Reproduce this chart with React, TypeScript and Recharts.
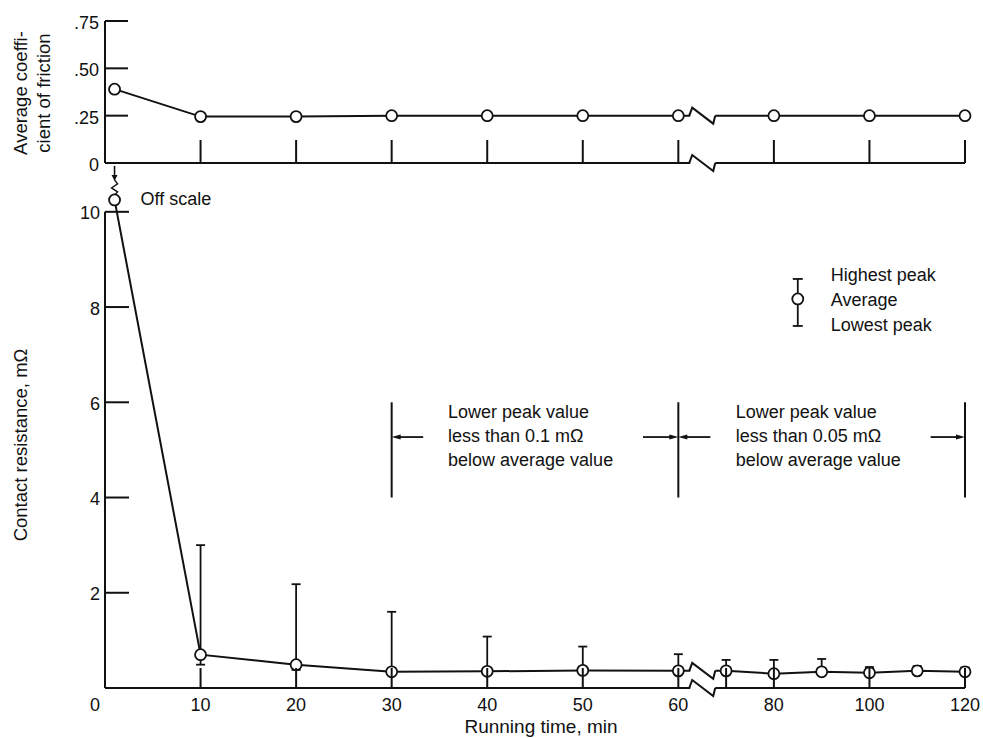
import React from 'react';
import {
  LineChart,
  Line,
  XAxis,
  YAxis,
  ErrorBar,
  ReferenceLine,
  ReferenceDot,
  Label,
} from 'recharts';

const NUM_FONT = '"Liberation Sans Narrow", "Liberation Sans", sans-serif';
const TEXT_FONT = '"Liberation Sans", Arial, sans-serif';
const INK = '#111';

// Running time, min. The axis breaks after 60 min; 60-120 min is drawn at half scale.
const frictionTimes = [1, 10, 20, 30, 40, 50, 60, 80, 100, 120];
const frictionAvg = [0.39, 0.245, 0.245, 0.25, 0.25, 0.25, 0.25, 0.25, 0.25, 0.25];

const resistanceTimes = [1, 10, 20, 30, 40, 50, 60, 70, 80, 90, 100, 110, 120];
const resistanceAvg = [10.25, 0.7, 0.49, 0.34, 0.35, 0.37, 0.36, 0.36, 0.3, 0.34, 0.32, 0.36, 0.34];
const resistanceHigh = [null, 3.0, 2.18, 1.6, 1.08, 0.87, 0.71, 0.59, 0.59, 0.61, 0.44, 0.46, 0.43];
const resistanceLow = [null, 0.49, 0.38, null, null, null, null, null, null, null, null, null, null];

const frictionTickTimes = [10, 20, 30, 40, 50, 60, 80, 100, 120];
const frictionTicks = [0, 0.25, 0.5, 0.75];
const frictionTickLabels = ['0', '.25', '.50', '.75'];
const timeTickTimes = [0, 10, 20, 30, 40, 50, 60, 70, 80, 100, 120];
const timeTickLabels = ['0', '10', '20', '30', '40', '50', '60', '', '80', '100', '120'];
const resistanceTicks = [2, 4, 6, 8, 10];

const legendLabels = ['Highest peak', 'Average', 'Lowest peak'];
const note1Lines = ['Lower peak value', 'less than 0.1 mΩ', 'below average value'];
const note2Lines = ['Lower peak value', 'less than 0.05 mΩ', 'below average value'];
const noteBounds = [30, 60, 120];

const BREAK_AT = 60;
const BREAK_MARK = 65;

// time -> position on the broken axis
const toAxis = (t: number) => (t <= BREAK_AT ? t : BREAK_AT + (t - BREAK_AT) / 2);
const AXIS_MAX = toAxis(120);

// value of a polyline at time t (used to place the break symbol on the curve)
function valueAt(times: number[], vals: number[], t: number) {
  for (let i = 1; i < times.length; i++) {
    if (t <= times[i]) {
      const f = (t - times[i - 1]) / (times[i] - times[i - 1]);
      return vals[i - 1] + f * (vals[i] - vals[i - 1]);
    }
  }
  return vals[vals.length - 1];
}

const frictionData = frictionTimes.map((t, i) => ({ x: toAxis(t), avg: frictionAvg[i] }));

const resistanceData = resistanceTimes.map((t, i) => {
  const avg = resistanceAvg[i];
  const hi = resistanceHigh[i];
  const lo = resistanceLow[i];
  return {
    x: toAxis(t),
    avg,
    err: hi == null ? null : [lo == null ? 0 : avg - lo, hi - avg],
  };
});

// note annotation anchors (data units)
const NOTE_Y = 5.27;
const NOTE_TOP = 6.0;
const NOTE_BOTTOM = 4.0;
const note1At = 35.9;
const note2At = 72;
const noteArrows = [
  { from: 33.3, to: 30 },
  { from: 56.3, to: 60 },
  { from: 66.7, to: 60 },
  { from: 112.8, to: 120 },
];
const legendAt = { t: 85, y: 8.17 };

// ---- renderers ----

const circle = (cx: number, cy: number, key: string) => (
  <circle key={key} cx={cx} cy={cy} r={5.5} fill="#fff" stroke={INK} strokeWidth={1.8} />
);

const renderFrictionDot = (p: any) => circle(p.cx, p.cy, `fd-${p.index}`);

const renderResistanceDot = (p: any) => {
  const { cx, cy, index } = p;
  if (index !== 0) return circle(cx, cy, `rd-${index}`);
  // off-scale point: arrow with squiggle above it
  return (
    <g key="rd-0">
      <line x1={cx} y1={cy - 34} x2={cx} y2={cy - 24} stroke={INK} strokeWidth={1.6} />
      <polygon points={`${cx - 3},${cy - 25} ${cx + 3},${cy - 25} ${cx},${cy - 19}`} fill={INK} />
      <polyline
        points={`${cx},${cy - 20} ${cx + 3},${cy - 16} ${cx - 3},${cy - 12} ${cx + 3},${cy - 8} ${cx},${cy - 5}`}
        fill="none"
        stroke={INK}
        strokeWidth={1.4}
      />
      {circle(cx, cy, 'rd-0c')}
      <text x={cx + 26} y={cy + 5} fontFamily={TEXT_FONT} fontSize={18} fill={INK}>
        Off scale
      </text>
    </g>
  );
};

const renderFrictionXTick = (p: any) => (
  <line x1={p.x} y1={p.y} x2={p.x} y2={p.y - 23} stroke={INK} strokeWidth={2} />
);

const renderFrictionYTick = (p: any) => {
  const i = frictionTicks.indexOf(p.payload.value);
  return (
    <g>
      {p.payload.value !== 0 && (
        <line x1={p.x} y1={p.y} x2={p.x + 23} y2={p.y} stroke={INK} strokeWidth={2} />
      )}
      <text x={p.x - 6} y={p.y + 8} textAnchor="end" fontFamily={NUM_FONT} fontSize={18} fill={INK}>
        {frictionTickLabels[i]}
      </text>
    </g>
  );
};

const renderTimeTick = (p: any) => {
  const i = timeTickTimes.map(toAxis).indexOf(p.payload.value);
  const label = timeTickLabels[i];
  const isZero = timeTickTimes[i] === 0;
  return (
    <g>
      {!isZero && <line x1={p.x} y1={p.y} x2={p.x} y2={p.y - 20} stroke={INK} strokeWidth={2} />}
      <text
        x={isZero ? p.x - 5 : p.x}
        y={p.y + 23}
        textAnchor={isZero ? 'end' : 'middle'}
        fontFamily={NUM_FONT}
        fontSize={18}
        fill={INK}
      >
        {label}
      </text>
    </g>
  );
};

const renderResistanceYTick = (p: any) => (
  <g>
    <line x1={p.x} y1={p.y} x2={p.x + 24} y2={p.y} stroke={INK} strokeWidth={2} />
    <text x={p.x - 5} y={p.y + 7.5} textAnchor="end" fontFamily={NUM_FONT} fontSize={18} fill={INK}>
      {p.payload.value}
    </text>
  </g>
);

const rotatedText = (x: number, y: number, s: string, key?: string) => (
  <text
    key={key}
    x={x}
    y={y}
    transform={`rotate(-90 ${x} ${y})`}
    textAnchor="middle"
    fontFamily={TEXT_FONT}
    fontSize={18.5}
    fill={INK}
  >
    {s}
  </text>
);

const renderFrictionTitle = (p: any) => {
  const vb = p.viewBox;
  const cy = vb.y + vb.height / 2 + 1;
  const right = vb.x + vb.width;
  return (
    <g>
      {rotatedText(right - 78, cy, 'Average coeffi-', 'a')}
      {rotatedText(right - 55, cy, 'cient of friction', 'b')}
    </g>
  );
};

const renderResistanceTitle = (p: any) => {
  const vb = p.viewBox;
  return rotatedText(vb.x + vb.width - 78, vb.y + vb.height / 2 + 7, 'Contact resistance,  mΩ');
};

const renderTimeTitle = (p: any) => {
  const vb = p.viewBox;
  return (
    <text
      x={vb.x + vb.width / 2 + 6}
      y={vb.y + 45}
      textAnchor="middle"
      fontFamily={TEXT_FONT}
      fontSize={19}
      fill={INK}
    >
      Running time,  min
    </text>
  );
};

// break symbol: blank out the stroke and draw a zig-zag
const renderBreak = (p: any) => {
  const { cx, cy } = p;
  return (
    <g>
      <rect x={cx - 12} y={cy - 3} width={25} height={6} fill="#fff" />
      <polyline
        points={`${cx - 13},${cy} ${cx - 10},${cy - 8} ${cx + 11},${cy + 8} ${cx + 13},${cy}`}
        fill="none"
        stroke={INK}
        strokeWidth={2}
      />
    </g>
  );
};

const renderArrow = (p: any) => {
  const { x1, y1, x2, y2 } = p;
  const dir = x2 > x1 ? 1 : -1;
  return (
    <g>
      <line x1={x1} y1={y1} x2={x2 - dir * 6} y2={y2} stroke={INK} strokeWidth={1.8} />
      <polygon
        points={`${x2},${y2} ${x2 - dir * 9},${y2 - 2.5} ${x2 - dir * 9},${y2 + 2.5}`}
        fill={INK}
      />
    </g>
  );
};

const renderNote = (lines: string[]) => (p: any) => (
  <g>
    {lines.map((s, i) => (
      <text
        key={s + i}
        x={p.cx}
        y={p.cy - 19 + i * 24}
        fontFamily={TEXT_FONT}
        fontSize={18}
        fill={INK}
      >
        {s}
      </text>
    ))}
  </g>
);

const renderLegend = (p: any) => {
  const { cx, cy } = p;
  return (
    <g>
      <line x1={cx} y1={cy - 20} x2={cx} y2={cy + 27} stroke={INK} strokeWidth={1.8} />
      <line x1={cx - 5} y1={cy - 20} x2={cx + 5} y2={cy - 20} stroke={INK} strokeWidth={1.8} />
      <line x1={cx - 5} y1={cy + 27} x2={cx + 5} y2={cy + 27} stroke={INK} strokeWidth={1.8} />
      {circle(cx, cy, 'lg')}
      {legendLabels.map((s, i) => (
        <text key={s} x={cx + 33} y={cy - 18 + i * 25} fontFamily={TEXT_FONT} fontSize={18} fill={INK}>
          {s}
        </text>
      ))}
    </g>
  );
};

const axisStroke = { stroke: INK, strokeWidth: 2 };

export default function App() {
  const breakX = toAxis(BREAK_MARK);
  return (
    <div style={{ position: 'absolute', left: 0, top: 0, width: 983, height: 738, background: '#fff' }}>
      <div style={{ position: 'absolute', left: 0, top: 0 }}>
        <LineChart
          width={983}
          height={180}
          data={frictionData}
          margin={{ top: 21, right: 18, bottom: 16, left: 104 }}
        >
          <XAxis
            dataKey="x"
            type="number"
            domain={[0, AXIS_MAX]}
            ticks={frictionTickTimes.map(toAxis)}
            interval={0}
            height={1}
            tickSize={0}
            tickMargin={0}
            tickLine={false}
            axisLine={axisStroke}
            tick={renderFrictionXTick}
            zIndex={0}
          />
          <YAxis
            type="number"
            domain={[0, 0.75]}
            ticks={frictionTicks}
            interval={0}
            width={1}
            tickSize={0}
            tickMargin={0}
            tickLine={false}
            axisLine={axisStroke}
            tick={renderFrictionYTick}
            zIndex={0}
          >
            <Label content={renderFrictionTitle} />
          </YAxis>
          <Line
            dataKey="avg"
            stroke={INK}
            strokeWidth={2}
            dot={renderFrictionDot}
            activeDot={false}
            isAnimationActive={false}
          />
          <ReferenceDot
            x={breakX}
            y={valueAt(frictionTimes, frictionAvg, BREAK_MARK)}
            shape={renderBreak}
            ifOverflow="visible"
            zIndex={1500}
          />
          <ReferenceDot x={breakX} y={0} shape={renderBreak} ifOverflow="visible" zIndex={1500} />
        </LineChart>
      </div>

      <div style={{ position: 'absolute', left: 0, top: 160 }}>
        <LineChart
          width={983}
          height={578}
          data={resistanceData}
          margin={{ top: 28, right: 18, bottom: 49, left: 104 }}
        >
          <XAxis
            dataKey="x"
            type="number"
            domain={[0, AXIS_MAX]}
            ticks={timeTickTimes.map(toAxis)}
            interval={0}
            height={1}
            tickSize={0}
            tickMargin={0}
            tickLine={false}
            axisLine={axisStroke}
            tick={renderTimeTick}
            zIndex={0}
          >
            <Label content={renderTimeTitle} />
          </XAxis>
          <YAxis
            type="number"
            domain={[0, 10.5]}
            ticks={resistanceTicks}
            interval={0}
            width={1}
            tickSize={0}
            tickMargin={0}
            tickLine={false}
            axisLine={false}
            tick={renderResistanceYTick}
            zIndex={0}
          >
            <Label content={renderResistanceTitle} />
          </YAxis>
          <ReferenceLine
            segment={[
              { x: 0, y: 0 },
              { x: 0, y: 10 },
            ]}
            stroke={INK}
            strokeWidth={2}
          />
          {noteBounds.map((t) => (
            <ReferenceLine
              key={`nb-${t}`}
              segment={[
                { x: toAxis(t), y: NOTE_BOTTOM },
                { x: toAxis(t), y: NOTE_TOP },
              ]}
              stroke={INK}
              strokeWidth={2}
            />
          ))}
          {noteArrows.map((a, i) => (
            <ReferenceLine
              key={`na-${i}`}
              segment={[
                { x: toAxis(a.from), y: NOTE_Y },
                { x: toAxis(a.to), y: NOTE_Y },
              ]}
              shape={renderArrow}
            />
          ))}
          <Line
            dataKey="avg"
            stroke={INK}
            strokeWidth={2}
            dot={renderResistanceDot}
            activeDot={false}
            isAnimationActive={false}
          >
            <ErrorBar dataKey="err" direction="y" width={4.5} stroke={INK} strokeWidth={1.8} />
          </Line>
          <ReferenceDot
            x={breakX}
            y={valueAt(resistanceTimes, resistanceAvg, BREAK_MARK)}
            shape={renderBreak}
            ifOverflow="visible"
            zIndex={1500}
          />
          <ReferenceDot x={breakX} y={0} shape={renderBreak} ifOverflow="visible" zIndex={1500} />
          <ReferenceDot
            x={toAxis(legendAt.t)}
            y={legendAt.y}
            shape={renderLegend}
            ifOverflow="visible"
          />
          <ReferenceDot x={toAxis(note1At)} y={NOTE_Y} shape={renderNote(note1Lines)} ifOverflow="visible" />
          <ReferenceDot x={toAxis(note2At)} y={NOTE_Y} shape={renderNote(note2Lines)} ifOverflow="visible" />
        </LineChart>
      </div>
    </div>
  );
}
